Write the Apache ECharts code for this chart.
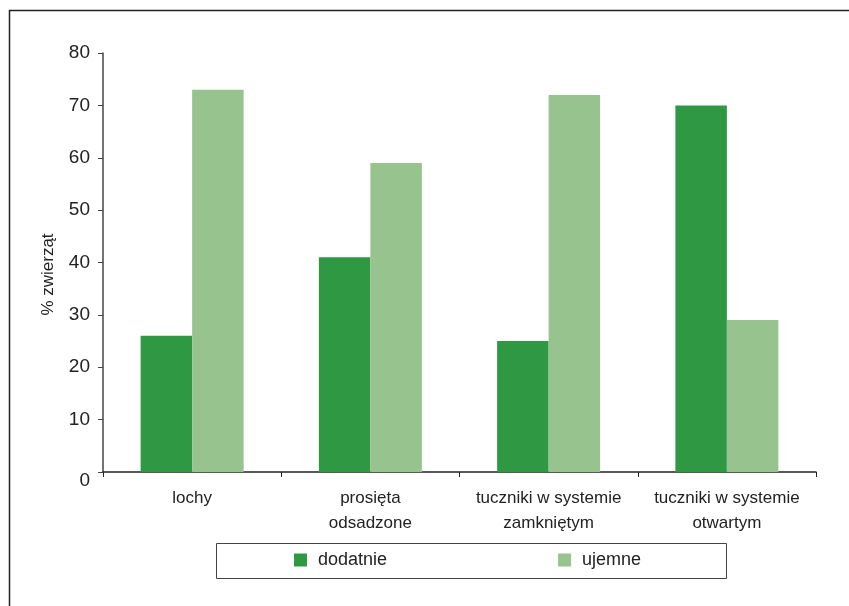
<!DOCTYPE html>
<html><head><meta charset="utf-8">
<script src="https://cdn.jsdelivr.net/npm/echarts@6/dist/echarts.min.js"></script>
<style>html,body{margin:0;padding:0;background:#fff}#c{width:849px;height:606px}</style>
</head><body><div id="c"></div>
<script>
const categories = ['lochy', 'prosięta\nodsadzone', 'tuczniki w systemie\nzamkniętym', 'tuczniki w systemie\notwartym'];
const dodatnie = [26, 41, 25, 70];
const ujemne = [73, 59, 72, 29];
const yTicks = { min: 0, max: 80, interval: 10 };

const reg = '"Liberation Sans", Arial, sans-serif';
const chart = echarts.init(document.getElementById('c'), null, { renderer: 'canvas' });
chart.setOption({
  animation: false,
  backgroundColor: '#fff',
  grid: { left: 103, right: 33, top: 53, bottom: 134 },
  graphic: [
    { type: 'polyline', shape: { points: [[9.5, 606], [9.5, 10.5], [849, 10.5]] }, style: { stroke: '#222', lineWidth: 1.5, fill: null } },
    { type: 'rect', shape: { x: 216.5, y: 543.5, width: 510, height: 35 }, style: { stroke: '#444', lineWidth: 1, fill: null } }
  ],
  legend: {
    left: 289, top: 546, itemWidth: 13, itemHeight: 13, itemGap: 171,
    icon: 'rect',
    textStyle: { fontFamily: reg, fontSize: 18, color: '#222', padding: [0, 0, 0, 6] },
    data: ['dodatnie', 'ujemne']
  },
  xAxis: {
    type: 'category', data: categories,
    axisLine: { lineStyle: { color: '#222', width: 1.5 } },
    axisTick: { show: true, length: 5, lineStyle: { color: '#222' } },
    axisLabel: { fontFamily: reg, fontSize: 17, color: '#222', lineHeight: 25, margin: 14, interval: 0 }
  },
  yAxis: {
    type: 'value', min: yTicks.min, max: yTicks.max, interval: yTicks.interval,
    name: '% zwierząt', nameLocation: 'middle', nameGap: 46,
    nameTextStyle: { fontFamily: reg, fontSize: 17, color: '#222', padding: [0, 0, 0, -24] },
    axisLine: { show: true, lineStyle: { color: '#444', width: 1.5 } },
    axisTick: { show: true, length: 5, lineStyle: { color: '#444' } },
    splitLine: { show: false },
    axisLabel: {
      fontFamily: reg, fontSize: 19, color: '#222', margin: 13,
      formatter: v => v === 0 ? '{z|0}' : String(v),
      rich: { z: { fontFamily: reg, fontSize: 19, color: '#222', padding: [18, 0, 0, 0] } }
    }
  },
  series: [
    { name: 'dodatnie', type: 'bar', data: dodatnie, barWidth: 51.5, barGap: '0%', itemStyle: { color: '#2e9842' } },
    { name: 'ujemne', type: 'bar', data: ujemne, barWidth: 51.5, barGap: '0%', itemStyle: { color: '#97c38f' } }
  ]
});
</script></body></html>
